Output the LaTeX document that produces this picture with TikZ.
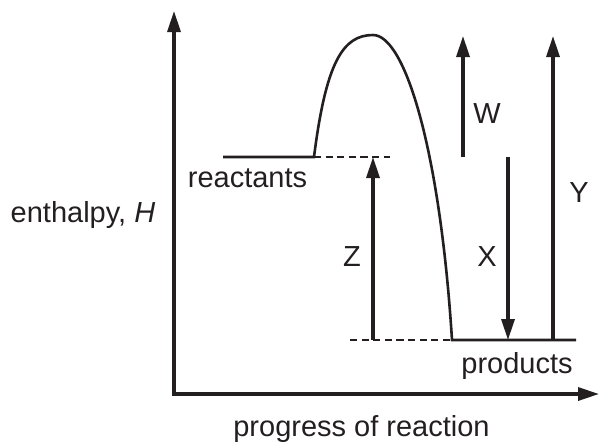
\documentclass[tikz,border=0pt]{standalone}
\usepackage{fontspec}
\setmainfont{Liberation Sans}
\usetikzlibrary{arrows.meta}
\definecolor{ink}{RGB}{35,31,32}
\begin{document}
\begin{tikzpicture}[x=.5pt,y=-.5pt,line width=1.3pt,color=ink,
  tip/.style={line width=1.65pt,-{Triangle[length=10.5pt,width=6.5pt]}},
  guide/.style={line width=.65pt,dash pattern=on 3.6pt off 2.2pt},
  lbl/.style={anchor=base,inner sep=0pt,text=ink,font=\fontsize{14.5}{17}\selectfont}]
  \useasboundingbox (0,0) rectangle (599,441);
  % axes
  \coordinate (o) at (174,394);
  \coordinate (ytop) at (174,11);
  \coordinate (xend) at (599,394);
  \draw[tip,{Triangle[length=10.5pt,width=6.5pt]}-{Triangle[length=10.5pt,width=6.5pt]}] (ytop)--(o)--(xend);
  % levels and hump
  \coordinate (rs) at (223,157);
  \coordinate (re) at (314,157);
  \coordinate (rd) at (390,157);
  \coordinate (pk) at (373,35);
  \coordinate (ps) at (452,340);
  \coordinate (pe) at (576,340);
  \coordinate (pd) at (350,340);
  \draw[guide] (re)--(rd);
  \draw[guide] (pd)--(ps);
  \draw (rs)--(re) .. controls (326,62) and (343,35) .. (pk)
    .. controls (405,35) and (440,150) .. (ps)--(pe);
  % energy changes
  \coordinate (z0) at (373,340);
  \coordinate (z1) at (373,157);
  \coordinate (w0) at (463,157);
  \coordinate (w1) at (463,36);
  \coordinate (x0) at (508,157);
  \coordinate (x1) at (508,340);
  \coordinate (y0) at (553,340);
  \coordinate (y1) at (553,36);
  \draw[tip] (z0)--(z1);
  \draw[tip] (w0)--(w1);
  \draw[tip] (x0)--(x1);
  \draw[tip] (y0)--(y1);
  % labels
  \node[lbl] (enth) at (83,222) {enthalpy, \textit{H}};
  \node[lbl] (prog) at (361.5,436) {progress of reaction};
  \node[lbl] (reac) at (247.5,187) {reactants};
  \node[lbl] (prod) at (517,373) {products};
  \node[lbl] (zl) at (352,266) {Z};
  \node[lbl] (xl) at (487,266) {X};
  \node[lbl] (wl) at (487,123) {W};
  \node[lbl] (yl) at (579,202) {Y};
\end{tikzpicture}
\end{document}
